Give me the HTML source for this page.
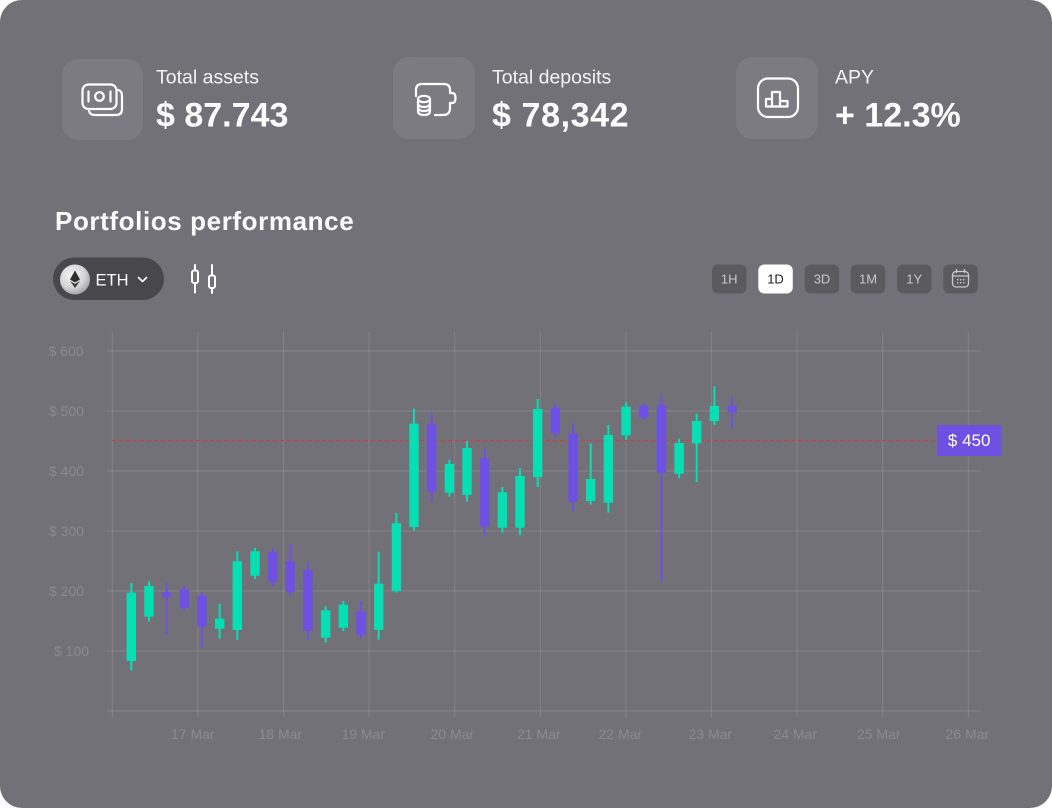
<!DOCTYPE html>
<html>
<head>
<meta charset="utf-8">
<style>
  html,body{margin:0;padding:0;background:#ffffff;}
  body{width:1052px;height:808px;overflow:hidden;}
  svg{display:block;}
  text{font-family:"Liberation Sans", sans-serif;}
</style>
</head>
<body>
<svg width="1052" height="808" viewBox="0 0 1052 808" xmlns="http://www.w3.org/2000/svg">
  <defs>
    <radialGradient id="ethg" cx="40%" cy="35%" r="70%">
      <stop offset="0" stop-color="#f4f4f4"/>
      <stop offset="0.6" stop-color="#d6d6d6"/>
      <stop offset="1" stop-color="#9d9d9d"/>
    </radialGradient>
  </defs>
  <!-- panel -->
  <rect x="0" y="0" width="1052" height="808" rx="22" fill="#727177"/>

  <!-- stat cards -->
  <rect x="62" y="59" width="81" height="81" rx="16" fill="#7c7b81"/>
  <rect x="393" y="57" width="82" height="82" rx="16" fill="#7c7b81"/>
  <rect x="736" y="57" width="82" height="82" rx="16" fill="#7c7b81"/>

  <!-- icon 1: money -->
  <g fill="none" stroke="#ffffff" stroke-width="2.2" stroke-linecap="round" stroke-linejoin="round">
    <rect x="82.5" y="84.5" width="34" height="24.5" rx="6"/>
    <path d="M118.5 90 Q122 91 122 96 V109 Q122 115 116 115 H95 Q90 115 89 111"/>
    <line x1="88.5" y1="91.5" x2="88.5" y2="101.5"/>
    <line x1="110.5" y1="91.5" x2="110.5" y2="101.5"/>
    <circle cx="99.5" cy="96.5" r="4.3"/>
  </g>

  <!-- icon 2: wallet with coins -->
  <g fill="none" stroke="#ffffff" stroke-width="2.2" stroke-linecap="round" stroke-linejoin="round">
    <path d="M416 96 V90 Q416 84 422 84 H444 Q450 84 450 90 V93"/>
    <path d="M450 103 V108 Q450 115 443 115 H435"/>
    <path d="M450 93 H452 Q455.5 93 455.5 98 Q455.5 103 452 103 H450"/>
    <ellipse cx="424" cy="99" rx="6" ry="3.2"/>
    <path d="M418 99 V111 Q418 115 424 115 Q430 115 430 111 V99"/>
    <path d="M418 103 Q418 107 424 107 Q430 107 430 103"/>
    <path d="M418 107 Q418 111 424 111 Q430 111 430 107"/>
  </g>

  <!-- icon 3: chart -->
  <g fill="none" stroke="#ffffff" stroke-width="2.2" stroke-linecap="round" stroke-linejoin="round">
    <rect x="758" y="78.5" width="40" height="38.5" rx="10"/>
    <path d="M766 106.5 V99 H772 V92 H780 V101 H787.5 V106.5 Z"/>
    <line x1="772" y1="99" x2="772" y2="106.5"/>
    <line x1="780" y1="101" x2="780" y2="106.5"/>
  </g>

  <!-- stat texts -->
  <text x="156" y="83.5" font-size="19.5" fill="#f4f4f6">Total assets</text>
  <text x="156" y="126.5" font-size="34" font-weight="bold" fill="#ffffff">$ 87.743</text>
  <text x="492" y="83.5" font-size="19.5" fill="#f4f4f6">Total deposits</text>
  <text x="492" y="126.5" font-size="34" font-weight="bold" fill="#ffffff" letter-spacing="0.6">$ 78,342</text>
  <text x="835" y="83.5" font-size="19.5" fill="#f4f4f6">APY</text>
  <text x="835" y="126.5" font-size="34" font-weight="bold" fill="#ffffff">+ 12.3%</text>

  <!-- title -->
  <text x="55" y="230" font-size="26" font-weight="bold" fill="#ffffff" letter-spacing="0.6">Portfolios performance</text>

  <!-- ETH pill -->
  <rect x="53" y="257.5" width="111" height="42.5" rx="21.25" fill="#48474c"/>
  <circle cx="75" cy="279.5" r="15" fill="url(#ethg)"/>
  <path d="M75 270.5 L80 279.5 L75 282.5 L70 279.5 Z" fill="#2e2e30"/>
  <path d="M75 284 L80 281 L75 288 L70 281 Z" fill="#3c3c3e"/>
  <text x="95.5" y="285.5" font-size="16.5" fill="#ffffff">ETH</text>
  <polyline points="138.5,277.5 142.5,281.5 146.5,277.5" fill="none" stroke="#ffffff" stroke-width="1.6" stroke-linecap="round" stroke-linejoin="round"/>

  <!-- candle type icon -->
  <g fill="none" stroke="#ffffff" stroke-width="2" stroke-linecap="round">
    <line x1="195" y1="265" x2="195" y2="292.5"/>
    <rect x="192" y="270.5" width="6" height="12.5" rx="2" fill="#727177"/>
    <line x1="212" y1="265" x2="212" y2="293"/>
    <rect x="209" y="275.5" width="6" height="12.5" rx="2" fill="#727177"/>
  </g>

  <!-- time buttons -->
  <g font-size="13" text-anchor="middle">
    <rect x="712" y="264.5" width="34.5" height="29" rx="6" fill="#5b5a5f"/>
    <text x="729.2" y="283.5" fill="#c9c8cc">1H</text>
    <rect x="758.3" y="264.5" width="34.5" height="29" rx="6" fill="#ffffff"/>
    <text x="775.5" y="283.5" fill="#1b1b1d">1D</text>
    <rect x="804.7" y="264.5" width="34.5" height="29" rx="6" fill="#5b5a5f"/>
    <text x="822" y="283.5" fill="#c9c8cc">3D</text>
    <rect x="850.7" y="264.5" width="34.5" height="29" rx="6" fill="#5b5a5f"/>
    <text x="868" y="283.5" fill="#c9c8cc">1M</text>
    <rect x="897" y="264.5" width="34.5" height="29" rx="6" fill="#5b5a5f"/>
    <text x="914.2" y="283.5" fill="#c9c8cc">1Y</text>
    <rect x="943.3" y="264.5" width="34.5" height="29" rx="6" fill="#5b5a5f"/>
  </g>
  <g fill="none" stroke="#c9c8cc" stroke-width="1.3" stroke-linecap="round">
    <rect x="952.5" y="271.5" width="16" height="15.5" rx="3.5"/>
    <line x1="952.5" y1="276" x2="968.5" y2="276"/>
    <line x1="956.5" y1="269.5" x2="956.5" y2="272.5"/>
    <line x1="964.5" y1="269.5" x2="964.5" y2="272.5"/>
  </g>
  <g fill="#c9c8cc">
    <rect x="957" y="279" width="1.4" height="1.4"/><rect x="960" y="279" width="1.4" height="1.4"/><rect x="963" y="279" width="1.4" height="1.4"/>
    <rect x="957" y="282" width="1.4" height="1.4"/><rect x="960" y="282" width="1.4" height="1.4"/><rect x="963" y="282" width="1.4" height="1.4"/>
  </g>

  <!-- grid -->
  <g stroke="#ffffff" stroke-opacity="0.13" stroke-width="1">
    <line x1="107" y1="351" x2="981" y2="351"/>
    <line x1="107" y1="411" x2="981" y2="411"/>
    <line x1="107" y1="471" x2="981" y2="471"/>
    <line x1="107" y1="531" x2="981" y2="531"/>
    <line x1="107" y1="591" x2="981" y2="591"/>
    <line x1="107" y1="651" x2="981" y2="651"/>
    <line x1="107" y1="711" x2="981" y2="711"/>
    <line x1="112.3" y1="332" x2="112.3" y2="717"/>
    <line x1="197.9" y1="332" x2="197.9" y2="717"/>
    <line x1="283.5" y1="332" x2="283.5" y2="717"/>
    <line x1="369.1" y1="332" x2="369.1" y2="717"/>
    <line x1="454.7" y1="332" x2="454.7" y2="717"/>
    <line x1="540.3" y1="332" x2="540.3" y2="717"/>
    <line x1="625.9" y1="332" x2="625.9" y2="717"/>
    <line x1="711.5" y1="332" x2="711.5" y2="717"/>
    <line x1="797.1" y1="332" x2="797.1" y2="717"/>
    <line x1="882.7" y1="332" x2="882.7" y2="717"/>
    <line x1="968.3" y1="332" x2="968.3" y2="717"/>
  </g>

  <!-- y labels -->
  <g font-size="14" fill="#8b8a90">
    <text x="48.5" y="356">$ 600</text>
    <text x="49" y="416">$ 500</text>
    <text x="49" y="476">$ 400</text>
    <text x="49" y="536">$ 300</text>
    <text x="49" y="596">$ 200</text>
    <text x="54" y="656">$ 100</text>
  </g>

  <!-- x labels -->
  <g font-size="14" fill="#8b8a90">
    <text x="171" y="739">17 Mar</text>
    <text x="258.5" y="739">18 Mar</text>
    <text x="341.5" y="739">19 Mar</text>
    <text x="430.5" y="739">20 Mar</text>
    <text x="517" y="739">21 Mar</text>
    <text x="598.5" y="739">22 Mar</text>
    <text x="688.5" y="739">23 Mar</text>
    <text x="773.5" y="739">24 Mar</text>
    <text x="857" y="739">25 Mar</text>
    <text x="945.5" y="739">26 Mar</text>
  </g>

  <!-- dashed price line -->
  <line x1="112" y1="440.5" x2="937" y2="440.5" stroke="#d9393e" stroke-width="1" stroke-dasharray="4 3"/>

  <!-- candles -->
  <g fill="#06dfb4">
    <rect x="130.3" y="583" width="2" height="87.7"/><rect x="126.6" y="592.7" width="9.4" height="68.3"/>
    <rect x="148.0" y="581.3" width="2" height="40"/><rect x="144.3" y="586" width="9.4" height="30.7"/>
    <rect x="218.7" y="603.7" width="2" height="35"/><rect x="215.0" y="618.7" width="9.4" height="10"/>
    <rect x="236.3" y="551.3" width="2" height="88.7"/><rect x="232.6" y="561.3" width="9.4" height="68.7"/>
    <rect x="254.0" y="548" width="2" height="31"/><rect x="250.3" y="551.3" width="9.4" height="24.4"/>
    <rect x="324.7" y="606.3" width="2" height="36"/><rect x="321.0" y="610.3" width="9.4" height="27.4"/>
    <rect x="342.3" y="601" width="2" height="30"/><rect x="338.6" y="604.7" width="9.4" height="23"/>
    <rect x="377.7" y="551.7" width="2" height="88"/><rect x="374.0" y="583.7" width="9.4" height="46"/>
    <rect x="395.4" y="513" width="2" height="79.7"/><rect x="391.7" y="523.3" width="9.4" height="67.7"/>
    <rect x="413.0" y="408.7" width="2" height="122"/><rect x="409.3" y="423.7" width="9.4" height="103.3"/>
    <rect x="448.4" y="459.7" width="2" height="37"/><rect x="444.7" y="464" width="9.4" height="28.7"/>
    <rect x="466.0" y="441" width="2" height="60.7"/><rect x="462.3" y="448" width="9.4" height="47"/>
    <rect x="501.4" y="487" width="2" height="45.7"/><rect x="497.7" y="492.3" width="9.4" height="35.4"/>
    <rect x="519.0" y="468" width="2" height="67.3"/><rect x="515.3" y="476" width="9.4" height="51.7"/>
    <rect x="536.7" y="399" width="2" height="88"/><rect x="533.0" y="409" width="9.4" height="68"/>
    <rect x="589.7" y="443.3" width="2" height="61.4"/><rect x="586.0" y="479" width="9.4" height="22"/>
    <rect x="607.4" y="425" width="2" height="87.7"/><rect x="603.7" y="435" width="9.4" height="67.7"/>
    <rect x="625.1" y="402.3" width="2" height="37.7"/><rect x="621.4" y="406.7" width="9.4" height="28.6"/>
    <rect x="678.1" y="438.7" width="2" height="39.6"/><rect x="674.4" y="443" width="9.4" height="30.7"/>
    <rect x="695.7" y="413.7" width="2" height="68.3"/><rect x="692.0" y="421" width="9.4" height="22.3"/>
    <rect x="713.4" y="386.3" width="2" height="38.7"/><rect x="709.7" y="406" width="9.4" height="15"/>
  </g>
  <g fill="#6e51e2">
    <rect x="165.6" y="583" width="2" height="51.7"/><rect x="161.9" y="592.3" width="9.4" height="5"/>
    <rect x="183.3" y="586" width="2" height="25"/><rect x="179.6" y="589.3" width="9.4" height="18.7"/>
    <rect x="201.0" y="592" width="2" height="56.3"/><rect x="197.3" y="595.7" width="9.4" height="31"/>
    <rect x="271.7" y="548" width="2" height="38.7"/><rect x="268.0" y="552" width="9.4" height="30"/>
    <rect x="289.3" y="544" width="2" height="52.3"/><rect x="285.6" y="561.3" width="9.4" height="30.4"/>
    <rect x="307.0" y="562.3" width="2" height="77.7"/><rect x="303.3" y="570.3" width="9.4" height="60.7"/>
    <rect x="360.0" y="601" width="2" height="38"/><rect x="356.3" y="611.3" width="9.4" height="23.7"/>
    <rect x="430.7" y="413.3" width="2" height="88.4"/><rect x="427.0" y="423.7" width="9.4" height="68"/>
    <rect x="483.7" y="448.3" width="2" height="88"/><rect x="480.0" y="458.3" width="9.4" height="68.4"/>
    <rect x="554.4" y="403.7" width="2" height="33.6"/><rect x="550.7" y="407.7" width="9.4" height="25.6"/>
    <rect x="572.1" y="423.3" width="2" height="88"/><rect x="568.4" y="433.7" width="9.4" height="68"/>
    <rect x="642.7" y="403.3" width="2" height="16.7"/><rect x="639.0" y="405.7" width="9.4" height="12"/>
    <rect x="660.4" y="395.3" width="2" height="187.4"/><rect x="656.7" y="405" width="9.4" height="68"/>
    <rect x="731.1" y="396.3" width="2" height="32"/><rect x="727.4" y="406" width="9.4" height="6.3"/>
  </g>

  <!-- price label -->
  <rect x="937" y="425" width="64.5" height="31" fill="#6e51e2"/>
  <text x="969.2" y="446.2" font-size="17" fill="#ffffff" text-anchor="middle">$ 450</text>
</svg>
</body>
</html>
